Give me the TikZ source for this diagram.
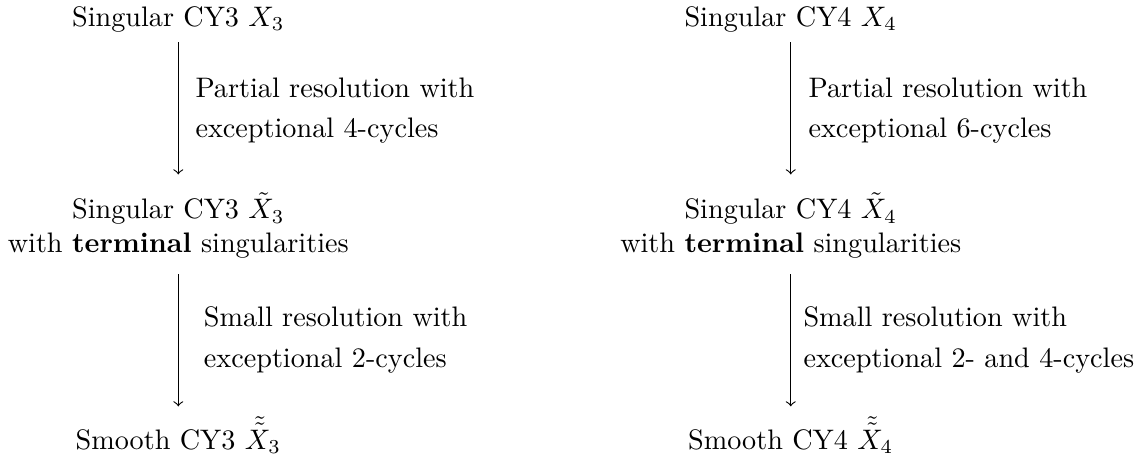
\documentclass[tikz,border=0pt]{standalone}
\usepackage{amsmath}
\usepackage{tikz}
\usetikzlibrary{arrows, positioning}
\tikzset{space/.style={align=center, anchor=base},
	map/.style={align=left, anchor=base west, inner sep=0pt, font=\linespread{1.21}\selectfont}}

\begin{document}
\begin{tikzpicture}[>=to, node distance=3cm]
\useasboundingbox (0,0) rectangle (14.22,5.695);
\node[space] (s31) at (2.222,5.362) {Singular CY3 $X_{3}$};
\node[space] (s32) at (2.222,2.546) {Singular CY3 $\tilde{X}_{3}$\\with \textbf{terminal} singularities};
\node[space] (s33) at (2.222,0.099) {Smooth CY3 $\tilde{\tilde{X}}_{3}$};
\node[space] (s41) at (9.855,5.362) {Singular CY4 $X_{4}$};
\node[space] (s42) at (9.855,2.546) {Singular CY4 $\tilde{X}_{4}$\\with \textbf{terminal} singularities};
\node[space] (s43) at (9.855,0.099) {Smooth CY4 $\tilde{\tilde{X}}_{4}$};
\node[map] (r31) at (2.430,3.975) {Partial resolution with\\exceptional 4-cycles};
\node[map] (r32) at (2.534,1.121) {Small resolution with\\exceptional 2-cycles};
\node[map] (r41) at (10.070,3.975) {Partial resolution with\\exceptional 6-cycles};
\node[map] (r42) at (10.007,1.121) {Small resolution with\\exceptional 2- and 4-cycles};
\draw [->, shorten >=3pt] (s31) -- (s32);
\draw [->, shorten <=2pt] (s32) -- (s33);
\draw [->, shorten >=3pt] (s41) -- (s42);
\draw [->, shorten <=2pt] (s42) -- (s43);
\end{tikzpicture}
\end{document}
